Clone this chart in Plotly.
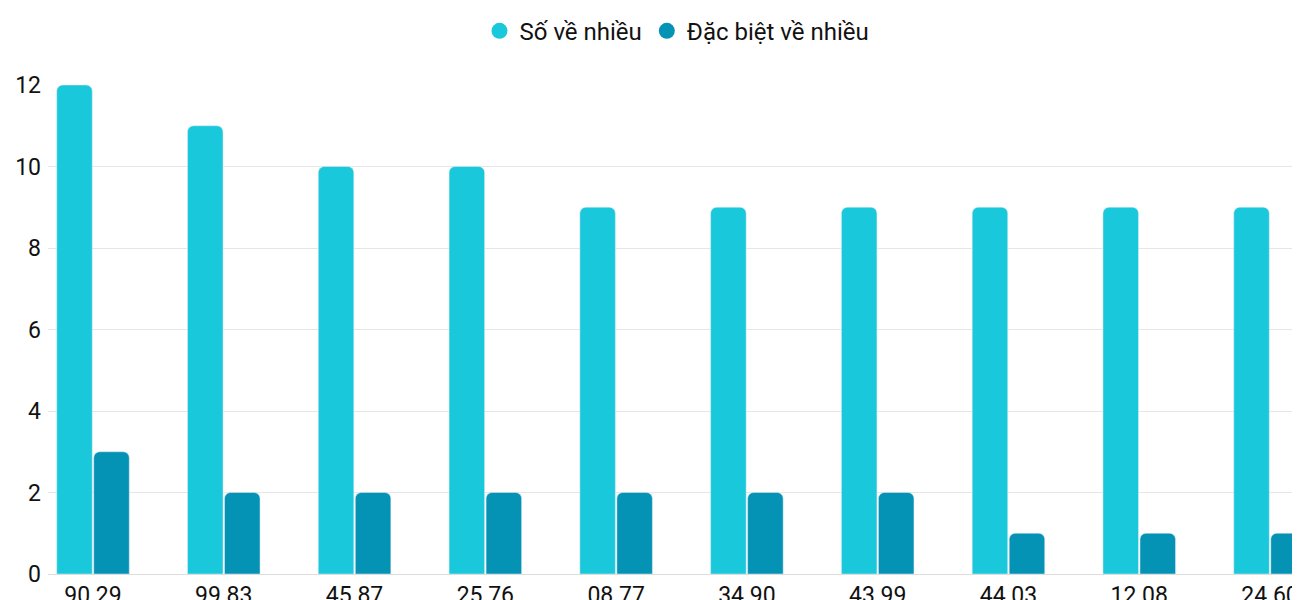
import plotly.graph_objects as go

categories = ["90 29", "99 83", "45 87", "25 76", "08 77", "34 90", "43 99", "44 03", "12 08", "24 60"]
so_ve_nhieu = [12, 11, 10, 10, 9, 9, 9, 9, 9, 9]
dac_biet = [3, 2, 2, 2, 2, 2, 2, 1, 1, 1]
c1, c2 = "#1AC8DB", "#0492B5"

x = list(range(len(categories)))
fig = go.Figure()
fig.add_bar(x=x, y=so_ve_nhieu, marker_color=c1, showlegend=False)
fig.add_bar(x=x, y=dac_biet, marker_color=c2, showlegend=False)
for name, c in [("Số về nhiều", c1), ("Đặc biệt về nhiều", c2)]:
    fig.add_scatter(x=[None], y=[None], mode="markers", name=name,
                    marker=dict(symbol="circle", size=26, color=c))
fig.update_layout(
    width=1300, height=600, plot_bgcolor="white", paper_bgcolor="white",
    font=dict(family="Roboto", size=23, color="#111"),
    margin=dict(l=40, r=2, t=77, b=34, autoexpand=False),
    barmode="group", bargap=0.434, bargroupgap=0.04, barcornerradius=6,
    legend=dict(orientation="h", x=0.5, xanchor="center", y=1.11, yanchor="middle",
                font=dict(size=24), itemsizing="trace"),
    xaxis=dict(range=[-0.344, 9.275], tickvals=x, ticktext=categories, automargin=False,
               showgrid=False, zeroline=False, showline=True, linecolor="#ddd", linewidth=1,
               ticks="", tickfont=dict(size=23), ticklabelstandoff=0),
    yaxis=dict(range=[0, 12], dtick=2, gridcolor="#e6e6e6", zeroline=False, automargin=False,
               ticks="", tickfont=dict(size=23), ticklabelstandoff=6),
)
fig.write_html("out.html")
